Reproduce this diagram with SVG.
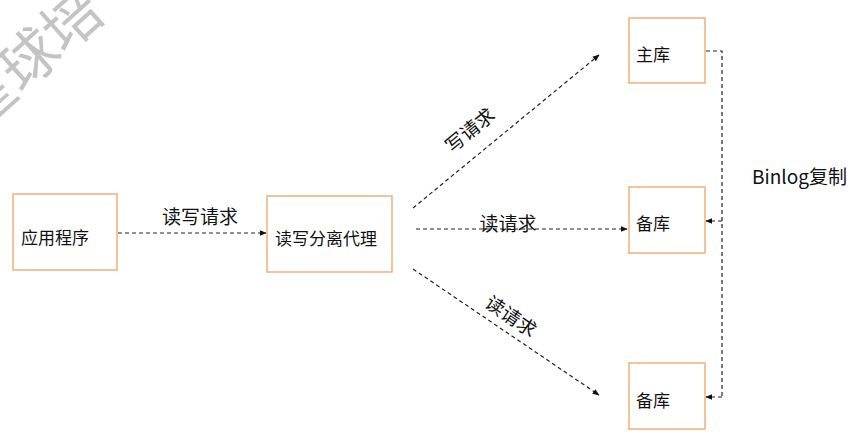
<svg xmlns="http://www.w3.org/2000/svg" width="865" height="444" viewBox="0 0 865 444">
<style>
.box{fill:#fff;stroke:#F0A466;stroke-width:1.3}
.t{font-family:"Noto Sans CJK SC","Liberation Sans",sans-serif;font-size:17px;fill:#111}
.lbl{font-family:"Noto Sans CJK SC","Liberation Sans",sans-serif;font-size:19px;fill:#111}
.c{fill:none;stroke:#222;stroke-width:1.2;stroke-dasharray:4 3}
.wm{font-family:"Noto Sans CJK SC",sans-serif;font-size:58px;fill:#c4c4c4}
</style>
<defs>
<marker id="ah" viewBox="0 0 10 10" refX="9" refY="5" markerWidth="7" markerHeight="7" orient="auto" markerUnits="userSpaceOnUse">
<path d="M0,1 L10,5 L0,9 Z" fill="#111"/>
</marker>
</defs>
<rect width="865" height="444" fill="#fff"/>
<text class="wm" transform="translate(26,56) rotate(-42)" text-anchor="middle" dominant-baseline="central">星球培</text>
<g id="connectors">
<line class="c" x1="118" y1="233" x2="266" y2="233" marker-end="url(#ah)"/>
<line class="c" x1="413" y1="208" x2="599" y2="55" marker-end="url(#ah)"/>
<line class="c" x1="416" y1="229" x2="627" y2="229" marker-end="url(#ah)"/>
<line class="c" x1="413" y1="269" x2="599" y2="395" marker-end="url(#ah)"/>
<polyline class="c" points="706,51 722,51 722,397"/>
<line class="c" x1="722" y1="221" x2="706" y2="221" marker-end="url(#ah)"/>
<line class="c" x1="722" y1="397" x2="706" y2="397" marker-end="url(#ah)"/>
<text class="lbl" x="200" y="224" text-anchor="middle">读写请求</text>
<text class="lbl" transform="translate(469,129) rotate(-39.4)" text-anchor="middle" dominant-baseline="central">写请求</text>
<text class="lbl" x="508" y="231" text-anchor="middle">读请求</text>
<text class="lbl" transform="translate(512,315) rotate(34)" text-anchor="middle" dominant-baseline="central">读请求</text>
<text class="lbl" x="752" y="184">Binlog复制</text>
</g>
<g id="app"><rect class="box" x="13" y="194" width="104" height="76"/><text class="t" x="21" y="244">应用程序</text></g>
<g id="proxy"><rect class="box" x="267" y="196" width="125" height="76"/><text class="t" x="275" y="245">读写分离代理</text></g>
<g id="master"><rect class="box" x="629" y="18" width="76" height="65"/><text class="t" x="636" y="61">主库</text></g>
<g id="slave1"><rect class="box" x="629" y="187" width="76" height="66"/><text class="t" x="636" y="230">备库</text></g>
<g id="slave2"><rect class="box" x="629" y="363" width="76" height="66"/><text class="t" x="636" y="407">备库</text></g>
</svg>
